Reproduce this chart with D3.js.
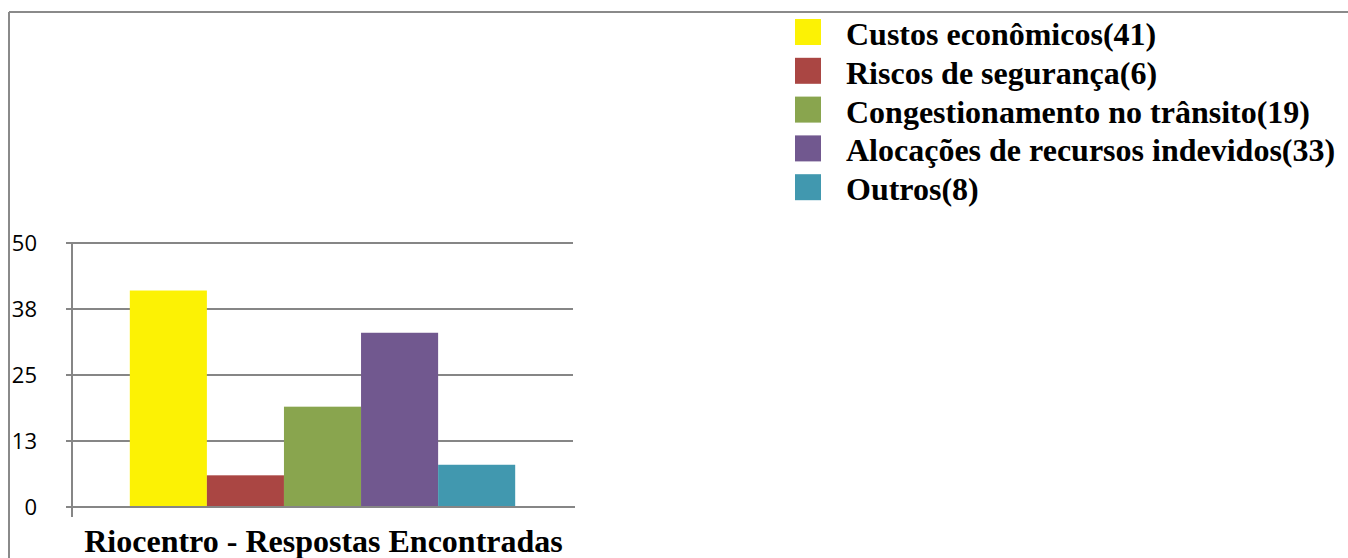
<!DOCTYPE html>
<html>
<head>
<meta charset="utf-8">
<script src="https://cdn.jsdelivr.net/npm/d3@7"></script>
<style>
  html, body { margin: 0; padding: 0; background: #fff; }
  svg { display: block; }
</style>
</head>
<body>
<svg id="chart" width="1348" height="558"></svg>
<script>
// Chart data
const category = "Riocentro - Respostas Encontradas";
const seriesNames = [
  "Custos econômicos(41)",
  "Riscos de segurança(6)",
  "Congestionamento no trânsito(19)",
  "Alocações de recursos indevidos(33)",
  "Outros(8)"
];
const seriesValues = [41, 6, 19, 33, 8];
const seriesColors = ["#FCF204", "#AA4643", "#89A54E", "#71588F", "#4198AF"];
const tickValues = [0, 12.5, 25, 37.5, 50];
const tickLabels = ["0", "13", "25", "38", "50"];

const svg = d3.select("#chart");
const gridColor = "#868686";

// Outer frame (top and left edges)
svg.append("line").attr("x1", 9).attr("x2", 1348).attr("y1", 12).attr("y2", 12)
  .attr("stroke", "#8a8a8a").attr("stroke-width", 2);
svg.append("line").attr("x1", 9).attr("x2", 9).attr("y1", 12).attr("y2", 558)
  .attr("stroke", "#8a8a8a").attr("stroke-width", 2);

// Plot area
const plot = { left: 72, right: 573, top: 243, bottom: 507 };

const y = d3.scaleLinear().domain([0, 50]).range([plot.bottom, plot.top]);
const x0 = d3.scaleBand().domain([category]).range([plot.left, plot.right])
  .paddingInner(0).paddingOuter(0.15);
const x1 = d3.scaleBand().domain(seriesNames).range([0, x0.bandwidth()]).padding(0);

// Horizontal gridlines
svg.append("g").selectAll("line").data(tickValues).join("line")
  .attr("x1", plot.left - 6).attr("x2", plot.right)
  .attr("y1", d => y(d)).attr("y2", d => y(d))
  .attr("stroke", gridColor).attr("stroke-width", 2);

// Bars
svg.append("g").selectAll("rect").data(seriesValues).join("rect")
  .attr("x", (d, i) => x0(category) + x1(seriesNames[i]))
  .attr("width", x1.bandwidth())
  .attr("y", d => y(d))
  .attr("height", d => y(0) - y(d))
  .attr("fill", (d, i) => seriesColors[i]);

// Axis lines
svg.append("line").attr("x1", plot.left).attr("x2", plot.left)
  .attr("y1", plot.top).attr("y2", plot.bottom + 10)
  .attr("stroke", gridColor).attr("stroke-width", 2);
svg.append("line").attr("x1", plot.left - 6).attr("x2", plot.right + 2)
  .attr("y1", plot.bottom).attr("y2", plot.bottom)
  .attr("stroke", gridColor).attr("stroke-width", 2);

// Y tick labels
svg.append("g").selectAll("text").data(tickValues).join("text")
  .attr("x", 37).attr("y", d => y(d))
  .attr("dy", "0.36em")
  .attr("text-anchor", "end")
  .attr("font-family", "'Open Sans', 'Liberation Sans', sans-serif")
  .attr("font-size", 22)
  .attr("fill", "#000")
  .text((d, i) => tickLabels[i]);

// Category label
svg.append("text")
  .attr("x", (plot.left + plot.right) / 2 + 1).attr("y", 552)
  .attr("text-anchor", "middle")
  .attr("font-family", "'Liberation Serif', 'Times New Roman', serif")
  .attr("font-weight", "bold")
  .attr("font-size", 32)
  .attr("fill", "#000")
  .text(category);

// Legend
const legend = svg.append("g").attr("transform", "translate(795,19)");
const rowH = 38.8;
const rows = legend.selectAll("g").data(seriesNames).join("g")
  .attr("transform", (d, i) => `translate(0,${i * rowH})`);
rows.append("rect").attr("width", 26).attr("height", 26)
  .attr("fill", (d, i) => seriesColors[i]);
rows.append("text")
  .attr("x", 51).attr("y", 26)
  .attr("font-family", "'Liberation Serif', 'Times New Roman', serif")
  .attr("font-weight", "bold")
  .attr("font-size", 32)
  .attr("fill", "#000")
  .text(d => d);
</script>
</body>
</html>
